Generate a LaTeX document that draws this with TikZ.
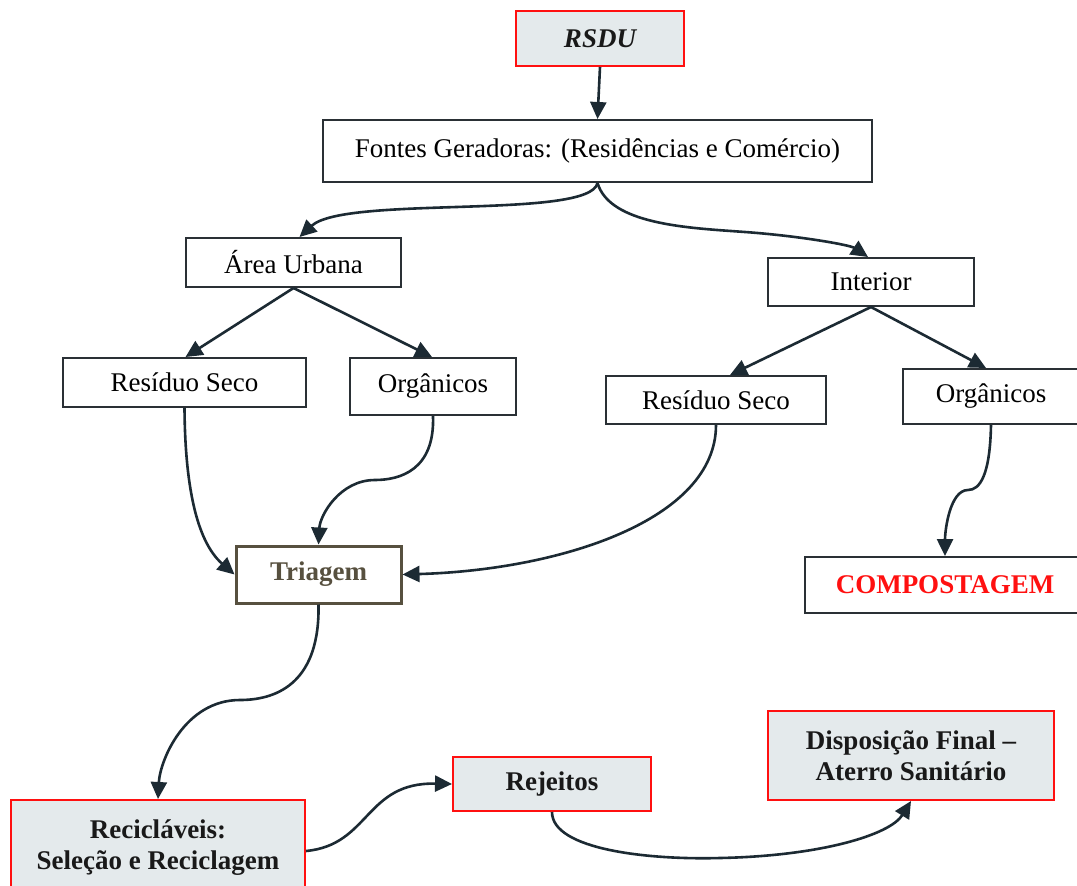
\documentclass[tikz,border=0pt]{standalone}
\usepackage{fontspec}
\setmainfont{Liberation Serif}
\usetikzlibrary{arrows.meta}
\definecolor{boxfill}{HTML}{E4EAEC}
\definecolor{arrowc}{HTML}{1C2A33}
\definecolor{bordc}{HTML}{2A3035}
\definecolor{triag}{HTML}{57503F}
\definecolor{redc}{HTML}{FF1010}
\begin{document}
\begin{tikzpicture}[x=1pt,y=-1pt,
  plainbox/.style={draw=bordc, line width=2pt, fill=white, inner sep=0pt, align=center,
     font=\fontsize{27}{30}\selectfont, text=black},
  redbox/.style={draw=redc, line width=2pt, fill=boxfill, inner sep=0pt, align=center,
     font=\fontsize{27}{31}\selectfont\bfseries, text=black!90},
  arr/.style={draw=arrowc, line width=2.6pt, -{Triangle[length=17pt,width=16pt]}},
  ln/.style={draw=arrowc, line width=2.6pt}]
\useasboundingbox (0,0) rectangle (1077,886);
\fill[white] (0,0) rectangle (1077,886);

\node[redbox, minimum width=168pt, minimum height=55pt] (rsdu) at (600,38.5) {\itshape RSDU};
\node[plainbox, minimum width=549pt, minimum height=62pt] (fontes) at (597.5,151) {Fontes Geradoras: (Residências e Comércio)};
\node[plainbox, minimum width=215pt, minimum height=49pt] (area) at (293.5,262.5) {Área Urbana};
\node[plainbox, minimum width=206pt, minimum height=48pt] (interior) at (871,282) {Interior};
\node[plainbox, minimum width=243pt, minimum height=49pt] (resl) at (184.5,382.5) {Resíduo Seco};
\node[plainbox, minimum width=166pt, minimum height=57pt] (orgl) at (433,386.5) {Orgânicos};
\node[plainbox, minimum width=220pt, minimum height=48pt] (resr) at (716,400) {Resíduo Seco};
\node[plainbox, minimum width=176pt, minimum height=55pt] (orgr) at (991,396.5) {Orgânicos};
\node[plainbox, draw=triag, line width=3pt, minimum width=165pt, minimum height=57pt,
      font=\fontsize{27}{30}\selectfont\bfseries, text=triag] (triagem) at (318.5,574.5) {Triagem};
\node[plainbox, minimum width=280pt, minimum height=56pt,
      font=\fontsize{27}{30}\selectfont\bfseries, text=redc] (comp) at (945,585) {COMPOSTAGEM};
\node[redbox, minimum width=294pt, minimum height=96pt] (recic) at (158,848) {Recicláveis:\\Seleção e Reciclagem};
\node[redbox, minimum width=198pt, minimum height=54pt] (rej) at (552,784) {Rejeitos};
\node[redbox, minimum width=286pt, minimum height=89pt] (disp) at (911,755.5) {Disposição Final –\\Aterro Sanitário};

% connectors
\draw[arr] (rsdu.south) -- (fontes.south |- fontes.north);
\draw[arr] (fontes.south) .. controls (590,220) and (345,195) .. ([xshift=6pt]area.north);
\draw[arr] (fontes.south) .. controls (610,225) and (690,228) .. (745,232) .. controls (800,236) and (850,245) .. ([xshift=-3pt]interior.north);
\draw[arr] (area.south) -- ([xshift=1pt]resl.north);
\draw[arr] (area.south) -- ([xshift=-1pt]orgl.north);
\draw[arr] (interior.south) -- ([xshift=14pt]resr.north);
\draw[arr] (interior.south) -- ([xshift=-5pt]orgr.north);
\draw[arr] (resl.south) .. controls (185,480) and (195,540) .. (triagem.west);
\draw[arr] (orgl.south) .. controls (435,470) and (400,480) .. (375,480) .. controls (340,480) and (320,515) .. (triagem.north);
\draw[arr] (resr.south) .. controls (716,520) and (560,570) .. (triagem.east);
\draw[arr] (orgr.south) .. controls (990,475) and (980,490) .. (968,490) .. controls (950,490) and (945,530) .. (comp.north);
\draw[arr] (triagem.south) .. controls (320,680) and (280,700) .. (240,700) .. controls (185,700) and (160,760) .. (recic.north);
\draw[arr] ([yshift=-3pt]recic.east) .. controls (370,845) and (365,782) .. (rej.west);
\draw[arr] (rej.south) .. controls (552,850) and (650,860) .. (720,858) .. controls (820,856) and (890,835) .. (disp.south);
\end{tikzpicture}
\end{document}
